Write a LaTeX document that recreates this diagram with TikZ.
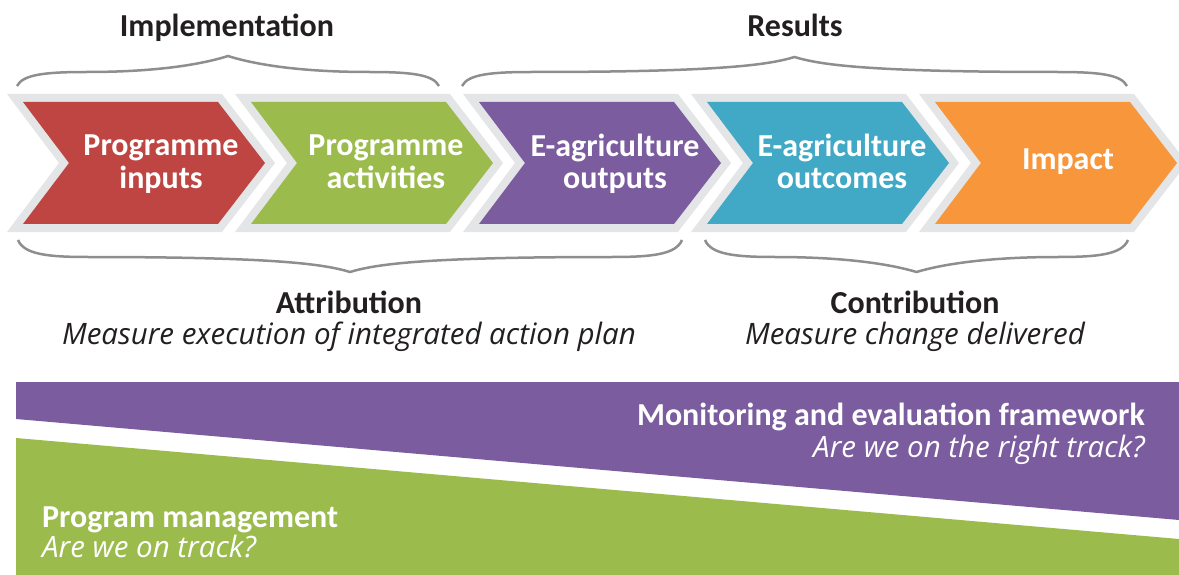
\documentclass[tikz,border=0pt]{standalone}
\usepackage{fontspec}
\setmainfont{Carlito}
\newfontfamily\itf{Open Sans}
\definecolor{cRed}{HTML}{BE4541}
\definecolor{cGreen}{HTML}{9BBB4D}
\definecolor{cPurple}{HTML}{7B5C9E}
\definecolor{cTeal}{HTML}{41A9C5}
\definecolor{cOrange}{HTML}{F7963A}
\definecolor{chevgray}{HTML}{E4E5E7}
\definecolor{braceGray}{HTML}{8E8E8E}
\definecolor{txt}{HTML}{231F20}
\newcommand\mybrace[5]{%
 \pgfmathsetmacro\bM{(#1+#2)/2}%
 \pgfmathsetmacro\bA{#3+(#4-#3)*0.85}%
 \pgfmathsetmacro\bB{#4+(#5-#4)*0.5}%
 \draw[bracestyle] (#1,#3) .. controls (#1+6,\bA) and (#1+30,#4) .. (#1+70,#4)
   .. controls (\bM-70,#4) and (\bM-25,\bB) .. (\bM,#5)
   .. controls (\bM+25,\bB) and (\bM+70,#4) .. (#2-70,#4)
   .. controls (#2-30,#4) and (#2-6,\bA) .. (#2,#3);}
\begin{document}
\begin{tikzpicture}[x=1pt,y=-1pt,
  chevtext/.style={text=white,font=\bfseries\fontsize{32}{32}\selectfont,align=center,inner sep=0pt},
  title/.style={text=txt,font=\bfseries\fontsize{32}{34}\selectfont,inner sep=0pt},
  subt/.style={text=txt,font=\itf\itshape\fontsize{29.5}{32}\selectfont,inner sep=0pt},
  whitebold/.style={text=white,font=\bfseries\fontsize{32}{34}\selectfont,inner sep=0pt},
  whiteit/.style={text=white,font=\itf\itshape\fontsize{29.5}{32}\selectfont,inner sep=0pt},
  bracestyle/.style={draw=braceGray,line width=2.5pt}]
\useasboundingbox (0,0) rectangle (1179,575);
% chevrons
\foreach \x/\c/\n/\o/\v/\t in {23/cRed/inputs/138/166/{Programme\strut\\inputs\strut},
                        251/cGreen/activities/135/166/{Programme\strut\\activities\strut},
                        479/cPurple/outputs/136/166/{E-agriculture\strut\\outputs\strut},
                        707/cTeal/outcomes/135/166/{E-agriculture\strut\\outcomes\strut},
                        935/cOrange/impact/133/163/{Impact\strut}}{
  \draw[draw=chevgray,line width=16pt,line join=miter]
     (\x,102) -- ++(195,0) -- ++(47,61) -- ++(-47,61) -- ++(-195,0) -- ++(46,-61) -- cycle;
  \fill[\c]
     (\x,102) -- ++(195,0) -- ++(47,61) -- ++(-47,61) -- ++(-195,0) -- ++(46,-61) -- cycle;
  \node[chevtext] (\n) at (\x+\o,\v) {\t};
}
% braces
\mybrace{17}{439}{86}{72}{56}
\mybrace{462}{1127}{86}{72}{57}
\mybrace{18}{682}{240}{257}{272}
\mybrace{705}{1128}{240}{257}{272}
% titles
\node[title,anchor=base] (impl) at (227,37) {Implementation};
\node[title,anchor=base] (res) at (795,37) {Results};
\node[title,anchor=base] (attr) at (349,313) {Attribution};
\node[subt,anchor=base] (attrsub) at (349,344) {Measure execution of integrated action plan};
\node[title,anchor=base] (contr) at (915,313) {Contribution};
\node[subt,anchor=base] (contrsub) at (915,344) {Measure change delivered};
% bottom bands
\fill[cPurple] (16,382) -- (1179,382) -- (1179,520) -- (16,419) -- cycle;
\fill[cGreen] (16,438) -- (1179,539) -- (1179,575) -- (16,575) -- cycle;
\node[whitebold,anchor=base east] (me) at (1145,425) {Monitoring and evaluation framework};
\node[whiteit,anchor=base east] (mesub) at (1145,457) {Are we on the right track?};
\node[whitebold,anchor=base west] (pm) at (42,527) {Program management};
\node[whiteit,anchor=base west] (pmsub) at (42,557) {Are we on track?};
\end{tikzpicture}
\end{document}
